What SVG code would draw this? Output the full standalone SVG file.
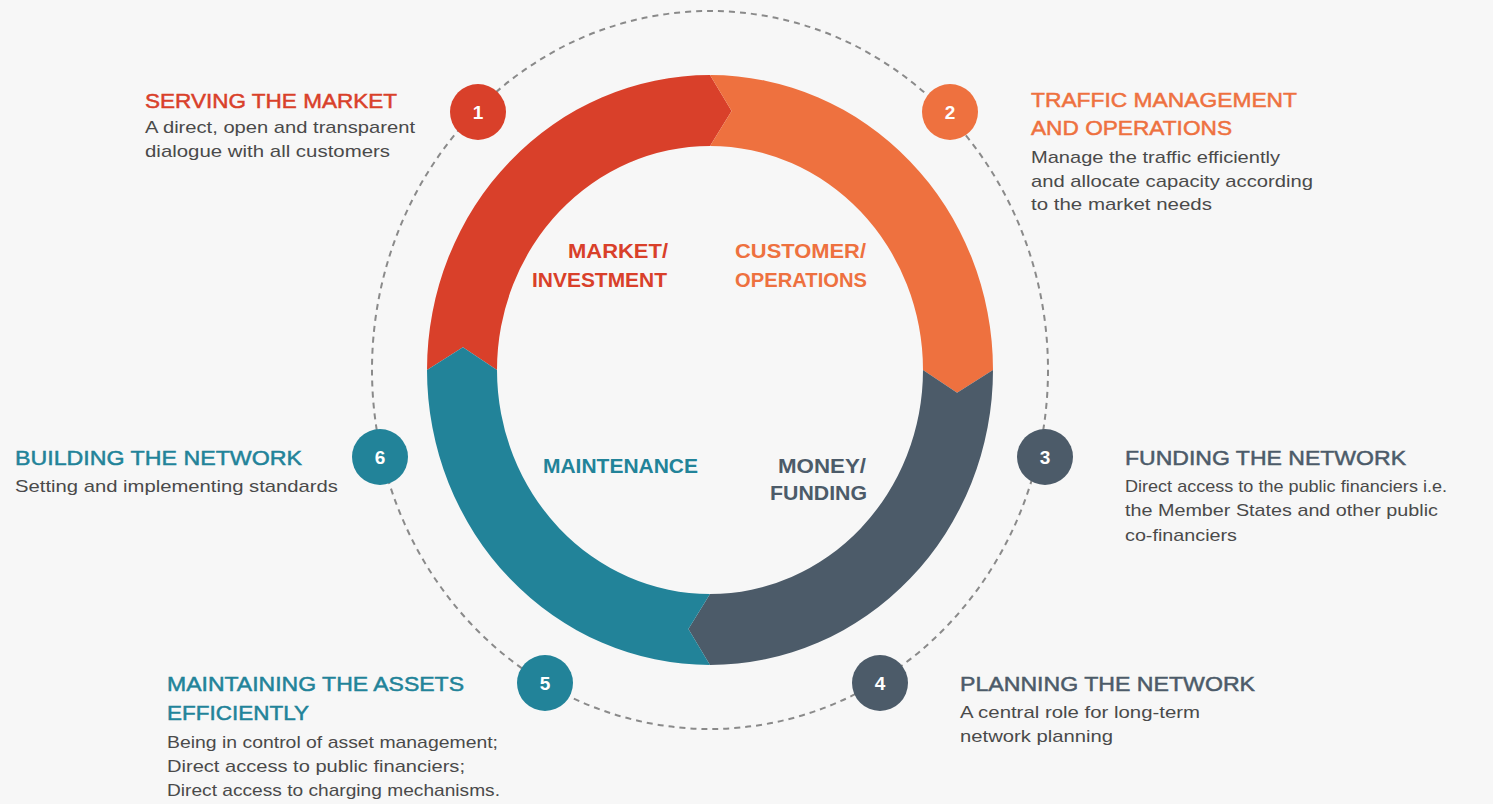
<svg xmlns="http://www.w3.org/2000/svg" width="1493" height="804" viewBox="0 0 1493 804">
<style>
.h{font-family:"Liberation Sans",Arial,sans-serif;font-size:21px;stroke-width:0.5px;}
.b{font-family:"Liberation Sans",Arial,sans-serif;font-size:17px;fill:#4a4a4a;}
.c{font-family:"Liberation Sans",Arial,sans-serif;font-size:21px;font-weight:bold;}
.n{font-family:"Liberation Sans",Arial,sans-serif;font-size:19px;font-weight:bold;fill:#fff;text-anchor:middle;}
.red{fill:#D9402A;}
.org{fill:#EE713F;}
.sla{fill:#4C5B69;}
.tea{fill:#228399;}
.h.red{stroke:#D9402A;}
.h.org{stroke:#EE713F;}
.h.sla{stroke:#4C5B69;}
.h.tea{stroke:#228399;}
</style>
<rect width="1493" height="804" fill="#F7F7F7"/>
<g id="connectors">
<ellipse cx="710" cy="370" rx="338" ry="359" fill="none" stroke="#8a8a8a" stroke-width="2" stroke-dasharray="6,5"/>
</g>
<g id="ring">
<path class="red" d="M 427 370 A 283 295 0 0 1 710 75 L 731.6 111 L 710 146 A 213 224 0 0 0 497 370 L 462.9 347.3 Z"/>
<path class="org" d="M 710 75 A 283 295 0 0 1 993 370 L 957.1 392.7 L 923 370 A 213 224 0 0 0 710 146 L 731.6 111 Z"/>
<path class="sla" d="M 993 370 A 283 295 0 0 1 710 665 L 688.4 629 L 710 594 A 213 224 0 0 0 923 370 L 957.1 392.7 Z"/>
<path class="tea" d="M 710 665 A 283 295 0 0 1 427 370 L 462.9 347.3 L 497 370 A 213 224 0 0 0 710 594 L 688.4 629 Z"/>
<text class="c red" x="668" y="258" text-anchor="end" textLength="100" lengthAdjust="spacingAndGlyphs">MARKET/</text>
<text class="c red" x="667" y="287" text-anchor="end" textLength="135" lengthAdjust="spacingAndGlyphs">INVESTMENT</text>
<text class="c org" x="735" y="258" textLength="131" lengthAdjust="spacingAndGlyphs">CUSTOMER/</text>
<text class="c org" x="735" y="287" textLength="132" lengthAdjust="spacingAndGlyphs">OPERATIONS</text>
<text class="c tea" x="543" y="473" textLength="155" lengthAdjust="spacingAndGlyphs">MAINTENANCE</text>
<text class="c sla" x="866" y="473" text-anchor="end" textLength="88" lengthAdjust="spacingAndGlyphs">MONEY/</text>
<text class="c sla" x="867" y="500" text-anchor="end" textLength="97" lengthAdjust="spacingAndGlyphs">FUNDING</text>
</g>
<g id="node1">
<circle class="red" cx="478" cy="112" r="28"/>
<text class="n" x="478" y="119">1</text>
<text class="h red" x="145" y="108" textLength="252" lengthAdjust="spacingAndGlyphs">SERVING THE MARKET</text>
<text class="b" x="145" y="133" textLength="270" lengthAdjust="spacingAndGlyphs">A direct, open and transparent</text>
<text class="b" x="145" y="157" textLength="245" lengthAdjust="spacingAndGlyphs">dialogue with all customers</text>
</g>
<g id="node2">
<circle class="org" cx="950" cy="112" r="28"/>
<text class="n" x="950" y="119">2</text>
<text class="h org" x="1031" y="107" textLength="266" lengthAdjust="spacingAndGlyphs">TRAFFIC MANAGEMENT</text>
<text class="h org" x="1031" y="135" textLength="201" lengthAdjust="spacingAndGlyphs">AND OPERATIONS</text>
<text class="b" x="1031" y="163" textLength="249" lengthAdjust="spacingAndGlyphs">Manage the traffic efficiently</text>
<text class="b" x="1031" y="187" textLength="282" lengthAdjust="spacingAndGlyphs">and allocate capacity according</text>
<text class="b" x="1031" y="210" textLength="181" lengthAdjust="spacingAndGlyphs">to the market needs</text>
</g>
<g id="node3">
<circle class="sla" cx="1045" cy="457" r="28"/>
<text class="n" x="1045" y="464">3</text>
<text class="h sla" x="1125" y="465" textLength="281" lengthAdjust="spacingAndGlyphs">FUNDING THE NETWORK</text>
<text class="b" x="1125" y="492" textLength="322" lengthAdjust="spacingAndGlyphs">Direct access to the public financiers i.e.</text>
<text class="b" x="1125" y="516" textLength="313" lengthAdjust="spacingAndGlyphs">the Member States and other public</text>
<text class="b" x="1125" y="541" textLength="112" lengthAdjust="spacingAndGlyphs">co-financiers</text>
</g>
<g id="node4">
<circle class="sla" cx="880" cy="683" r="28"/>
<text class="n" x="880" y="690">4</text>
<text class="h sla" x="960" y="691" textLength="295" lengthAdjust="spacingAndGlyphs">PLANNING THE NETWORK</text>
<text class="b" x="960" y="718" textLength="240" lengthAdjust="spacingAndGlyphs">A central role for long-term</text>
<text class="b" x="960" y="742" textLength="153" lengthAdjust="spacingAndGlyphs">network planning</text>
</g>
<g id="node5">
<circle class="tea" cx="545" cy="683" r="28"/>
<text class="n" x="545" y="690">5</text>
<text class="h tea" x="167" y="691" textLength="297" lengthAdjust="spacingAndGlyphs">MAINTAINING THE ASSETS</text>
<text class="h tea" x="167" y="720" textLength="142" lengthAdjust="spacingAndGlyphs">EFFICIENTLY</text>
<text class="b" x="167" y="748" textLength="331" lengthAdjust="spacingAndGlyphs">Being in control of asset management;</text>
<text class="b" x="167" y="772" textLength="298" lengthAdjust="spacingAndGlyphs">Direct access to public financiers;</text>
<text class="b" x="167" y="796" textLength="333" lengthAdjust="spacingAndGlyphs">Direct access to charging mechanisms.</text>
</g>
<g id="node6">
<circle class="tea" cx="380" cy="457" r="28"/>
<text class="n" x="380" y="464">6</text>
<text class="h tea" x="15" y="465" textLength="287" lengthAdjust="spacingAndGlyphs">BUILDING THE NETWORK</text>
<text class="b" x="15" y="492" textLength="323" lengthAdjust="spacingAndGlyphs">Setting and implementing standards</text>
</g>
</svg>
